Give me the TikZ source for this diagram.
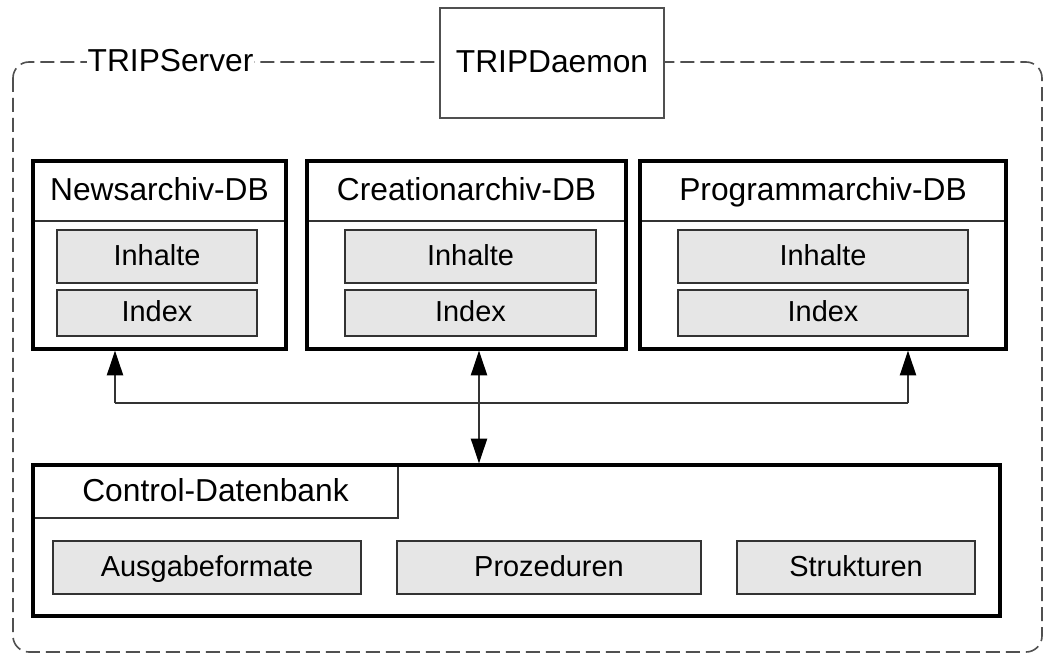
\documentclass[tikz,border=0pt]{standalone}
\usepackage{fontspec}
\setmainfont{Liberation Sans}
\usetikzlibrary{arrows.meta}
\definecolor{innerfill}{HTML}{E6E6E6}
\definecolor{dk}{HTML}{333333}
\definecolor{dashgray}{HTML}{505050}
\begin{document}
\begin{tikzpicture}[x=0.75pt,y=-0.75pt,
  hfont/.style={font=\fontsize{23.8}{28}\selectfont, text height=16pt, text depth=1pt},
  ifont/.style={font=\fontsize{21.7}{26}\selectfont, text height=16.3pt, text depth=3.5pt},
  wh/.style 2 args={minimum width=#1*0.75pt, minimum height=#2*0.75pt, inner sep=0pt, outer sep=0pt},
  dbbox/.style={fill=white},
  thickborder/.style={draw=black, line width=2.3pt},
  innerbox/.style={draw=dk, line width=1.5pt, fill=innerfill, ifont},
  hdr/.style={hfont, inner sep=0pt},
  sepline/.style={draw=dk, line width=1.5pt},
  daemon/.style={draw=dashgray, line width=1.5pt, fill=white, hfont},
  outer/.style={draw=dashgray, line width=1.2pt, dash pattern=on 10.5pt off 4.5pt, rounded corners=12pt},
  conn/.style={draw=dk, line width=1.5pt},
  tip/.style={-{Triangle[length=18.5pt,width=12pt,color=black]}},
  dtip/.style={{Triangle[length=18.5pt,width=12pt,color=black]}-{Triangle[length=18.5pt,width=12pt,color=black]}}
]
\useasboundingbox[fill=white] (0,0) rectangle (1048,655);

% outer dashed server frame
\draw[outer] (13,62) rectangle (1042,652);
\node[hfont, fill=white, inner xsep=0.5pt, inner ysep=2pt] (server) at (170.5,62) {TRIPServer};
\node[daemon, wh={224}{110}] (daemon) at (552,63) {TRIPDaemon};
\draw[draw=dashgray, line width=1.5pt] (daemon.north west) rectangle (daemon.south east);

% database boxes
\node[dbbox, wh={253}{188}] (news) at (159.5,255) {};
\node[dbbox, wh={319}{188}] (creation) at (466.5,255) {};
\node[dbbox, wh={366}{188}] (prog) at (823,255) {};

\node[hdr] (newsh) at (159.5,191) {Newsarchiv-DB};
\node[hdr] (creationh) at (466.5,191) {Creationarchiv-DB};
\node[hdr] (progh) at (823,191) {Programmarchiv-DB};

\coordinate (sepy) at (0,221);
\draw[sepline] (news.west |- sepy) -- (news.east |- sepy);
\draw[sepline] (creation.west |- sepy) -- (creation.east |- sepy);
\draw[sepline] (prog.west |- sepy) -- (prog.east |- sepy);

\node[innerbox, wh={200}{53}] (newsi) at (157,256.5) {Inhalte};
\node[innerbox, wh={200}{46}] (newsx) at (157,313) {Index};
\node[innerbox, wh={251}{53}] (creationi) at (470.5,256.5) {Inhalte};
\node[innerbox, wh={251}{46}] (creationx) at (470.5,313) {Index};
\node[innerbox, wh={290}{53}] (progi) at (823,256.5) {Inhalte};
\node[innerbox, wh={290}{46}] (progx) at (823,313) {Index};

\draw[thickborder] (news.north west) rectangle (news.south east);
\draw[thickborder] (creation.north west) rectangle (creation.south east);
\draw[thickborder] (prog.north west) rectangle (prog.south east);

% control database
\node[dbbox, wh={967}{151}] (control) at (516.5,540.5) {};
\node[draw=dk, line width=1.5pt, fill=white, hfont, wh={365}{53}] (tab) at (215.5,491.5) {Control-Datenbank};
\node[innerbox, wh={308}{53}] (ausgabe) at (207,567.5) {Ausgabeformate};
\node[innerbox, wh={304}{53}] (proz) at (549,567.5) {Prozeduren};
\node[innerbox, wh={238}{53}] (struk) at (856,567.5) {Strukturen};
\draw[thickborder] (control.north west) rectangle (control.south east);

% connectors
\coordinate (la) at (115,403);
\coordinate (ma) at (479,403);
\coordinate (ra) at (908,403);
\draw[conn] (la) -- (ra);
\draw[conn, tip] (la) -- ([yshift=-1.2pt]news.south -| la);
\draw[conn, tip] (ra) -- ([yshift=-1.2pt]prog.south -| ra);
\draw[conn, dtip] ([yshift=-1.2pt]creation.south -| ma) -- ([yshift=1.2pt]control.north -| ma);
\end{tikzpicture}
\end{document}
